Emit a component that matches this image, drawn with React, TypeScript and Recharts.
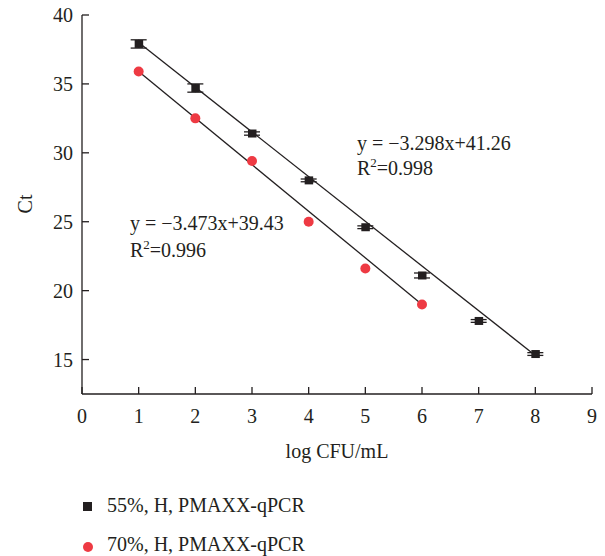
import {
  ScatterChart,
  Scatter,
  XAxis,
  YAxis,
  ErrorBar,
} from 'recharts'

// log CFU/mL on the x axis
const logCfu55 = [1, 2, 3, 4, 5, 6, 7, 8]
const ct55     = [37.9, 34.7, 31.4, 28.0, 24.6, 21.1, 17.8, 15.4]
const sd55     = [0.3, 0.3, 0.12, 0.1, 0.1, 0.18, 0.1, 0.1]

const logCfu70 = [1, 2, 3, 4, 5, 6]
const ct70     = [35.9, 32.5, 29.4, 25.0, 21.6, 19.0]

// fitted lines, start and end
const fit55X = [1, 8]
const fit55Y = [38.0, 15.3]
const fit70X = [1, 6]
const fit70Y = [35.9, 19.0]

const xTicks = [0, 1, 2, 3, 4, 5, 6, 7, 8, 9]
const yTicks = [15, 20, 25, 30, 35, 40]

const INK  = '#231f20'
const RED  = '#ee3a43'
const FONT = '"Liberation Serif", "Times New Roman", serif'
const FS   = 20

const data55 = logCfu55.map((x, i) => ({ x, y: ct55[i], err: sd55[i] }))
const data70 = logCfu70.map((x, i) => ({ x, y: ct70[i] }))
const line55 = fit55X.map((x, i) => ({ x, y: fit55Y[i] }))
const line70 = fit70X.map((x, i) => ({ x, y: fit70Y[i] }))

const YTick = (props: any) => {
  const { x, y, payload } = props
  return (
    <g>
      <line x1={x + 9} x2={x + 16} y1={y} y2={y} stroke={INK} strokeWidth={1.3} />
      <text x={x} y={y} dy={7} textAnchor="end" fill={INK} fontSize={FS} fontFamily={FONT}>
        {payload.value}
      </text>
    </g>
  )
}

const XTick = (props: any) => {
  const { x, y, payload } = props
  return (
    <g>
      <line x1={x} x2={x} y1={y - 7} y2={y} stroke={INK} strokeWidth={1.3} />
      <text x={x} y={y + 29} textAnchor="middle" fill={INK} fontSize={FS} fontFamily={FONT}>
        {payload.value}
      </text>
    </g>
  )
}

const Square = (props: any) => (
  <rect x={props.cx - 4} y={props.cy - 4} width={8.5} height={8} fill={INK} />
)

const Dot = (props: any) => <circle cx={props.cx} cy={props.cy} r={5} fill={RED} />

const textStyle = {
  position: 'absolute' as const,
  fontFamily: FONT,
  fontSize: FS,
  color: INK,
  whiteSpace: 'nowrap' as const,
  lineHeight: '26px',
}

const supStyle = { fontSize: 13, verticalAlign: 8, lineHeight: 0 }

const App = () => {
  return (
    <div style={{ position: 'absolute', left: 0, top: 0, width: 605, height: 556, background: '#fff' }}>
      <ScatterChart
        width={605}
        height={556}
        margin={{ top: 15, right: 13, left: 0, bottom: 0 }}
      >
        <XAxis
          type="number"
          dataKey="x"
          domain={[0, 9]}
          ticks={xTicks}
          height={162}
          tickSize={0}
          tickMargin={0}
          tickLine={false}
          axisLine={{ stroke: INK, strokeWidth: 1.3 }}
          tick={<XTick />}
          label={{
            content: () => (
              <text x={337} y={458} textAnchor="middle" fill={INK} fontSize={FS} fontFamily={FONT}>
                log CFU/mL
              </text>
            ),
          }}
        />
        <YAxis
          type="number"
          dataKey="y"
          domain={[12.5, 40]}
          ticks={yTicks}
          width={82}
          tickSize={0}
          tickMargin={9}
          tickLine={false}
          axisLine={{ stroke: INK, strokeWidth: 1.3 }}
          tick={<YTick />}
          label={{
            content: () => (
              <text
                x={32}
                y={204}
                transform="rotate(-90 32 204)"
                textAnchor="middle"
                fill={INK}
                fontSize={FS}
                fontFamily={FONT}
              >
                Ct
              </text>
            ),
          }}
        />
        <Scatter
          data={line55}
          line={{ stroke: INK, strokeWidth: 1.3 }}
          shape={() => null}
          isAnimationActive={false}
        />
        <Scatter
          data={line70}
          line={{ stroke: INK, strokeWidth: 1.3 }}
          shape={() => null}
          isAnimationActive={false}
        />
        <Scatter data={data55} shape={<Square />} isAnimationActive={false}>
          <ErrorBar dataKey="err" direction="y" width={8} stroke={INK} strokeWidth={1.3} isAnimationActive={false} />
        </Scatter>
        <Scatter data={data70} shape={<Dot />} isAnimationActive={false} />
      </ScatterChart>

      <div style={{ ...textStyle, left: 357, top: 130 }}>y = −3.298x+41.26</div>
      <div style={{ ...textStyle, left: 357, top: 155 }}>
        R<sup style={supStyle}>2</sup>=0.998
      </div>
      <div style={{ ...textStyle, left: 130, top: 210 }}>y = −3.473x+39.43</div>
      <div style={{ ...textStyle, left: 130, top: 237 }}>
        R<sup style={supStyle}>2</sup>=0.996
      </div>

      <div style={{ position: 'absolute', left: 83, top: 502, width: 9, height: 9, background: INK }} />
      <div style={{ ...textStyle, left: 107, top: 492 }}>55%, H, PMAXX-qPCR</div>
      <div style={{ position: 'absolute', left: 83, top: 542, width: 10, height: 10, borderRadius: 5, background: RED }} />
      <div style={{ ...textStyle, left: 107, top: 531 }}>70%, H, PMAXX-qPCR</div>
    </div>
  )
}

export default App
